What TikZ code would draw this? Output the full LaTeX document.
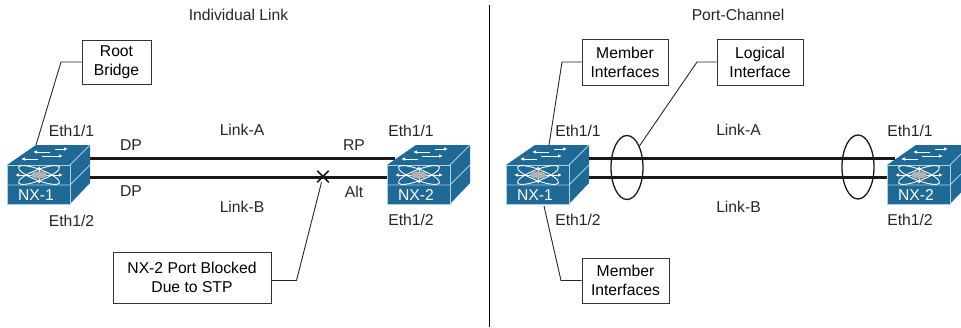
\documentclass[tikz,border=0pt]{standalone}
\usepackage{fontspec}
\setmainfont{Liberation Sans}
\usetikzlibrary{arrows.meta,shapes.geometric,shapes.misc}
\definecolor{switchblue}{RGB}{31,105,150}
\definecolor{switchedge}{RGB}{175,208,226}
\tikzset{
    callout/.style={draw=black!80, line width=0.9pt, align=center, inner sep=0pt, fill=white},
    leader/.style={line width=0.9pt, draw=black!85},
    linkline/.style={line width=3pt, draw=black!90},
    lagring/.style={draw=black!90, ellipse, line width=1.3pt, minimum width=32, minimum height=64, inner sep=0pt},
    blockmark/.style={draw=black!90, cross out, line width=1.5pt, minimum size=10, inner sep=0pt},
    portlabel/.style={inner sep=0pt, text=black!85},
    switchbox/.pic={
        \fill[switchblue] (0,0) -- (63,0) -- (83,-21) -- (83,-59) -- (29,-59) -- (0,-39) -- cycle;
        \draw[switchedge, line width=0.9pt] (0,0) rectangle (63,-39);
        \draw[switchedge, line width=0.9pt] (63,-39) -- (83,-59);
        \draw[switchedge, line width=0.9pt] (0,-19) -- (63,-19) -- (83,-39);
        \foreach \ax/\bx/\ay in {48/61/-55, 43/26/-52, 35/56/-48, 31/14/-45}
            \draw[white, line width=0.9pt, -{Latex[length=4pt,width=3.5pt]}] (\ax,\ay) -- (\bx,\ay);
        \foreach \ang in {-21,21}
            \draw[white, line width=0.9pt, rotate around={\ang:(32,-29)}] (32,-29) ellipse (22 and 5.5);
        \foreach \ang in {-24,24}
            \draw[white, line width=1pt, -{Latex[length=4pt,width=3.5pt]}] (32,-29) -- ++(\ang,0);
        \foreach \ang in {-9,9}
            \draw[white, line width=1pt, -{Latex[length=3.5pt,width=3.5pt]}] (32,-29) -- ++(0,\ang);
        \fill[black!30] (32,-29) ellipse (8 and 3.6);
        \node[white, inner sep=0pt] at (29,-9) {\tikzpictext};
        \coordinate (-eastA) at (83,-46);
        \coordinate (-eastB) at (83,-27);
        \coordinate (-westA) at (8,-46);
        \coordinate (-westB) at (0,-27);
        \coordinate (-topa) at (29,-59);
        \coordinate (-topb) at (43,-59);
        \coordinate (-bottom) at (38,2);
    }
}
\begin{document}
\begin{tikzpicture}[x=1pt, y=-1pt, line cap=butt, line join=miter, font=\fontsize{15.7}{19}\selectfont]
    \useasboundingbox (0,0) rectangle (961,327);
    \clip (0,0) rectangle (961,327);
    \coordinate (divtop) at (489,5);
    \coordinate (divbot) at (489,327);
    \draw[line width=1pt] (divtop) -- (divbot);
    \node[portlabel] (titleleft) at (238.5,15) {Individual Link};
    \node[portlabel] (titleright) at (738,15) {Port-Channel};
    % switches
    \pic[pic text=NX-1] (nxa) at (7,204) {switchbox};
    \pic[pic text=NX-2] (nxb) at (387,204) {switchbox};
    \pic[pic text=NX-1] (nxc) at (506,204) {switchbox};
    \pic[pic text=NX-2] (nxd) at (887,204) {switchbox};
    \draw[linkline] (nxa-eastA) -- (nxb-westA);
    \draw[linkline] (nxa-eastB) -- (nxb-westB);
    \draw[linkline] (nxc-eastA) -- (nxd-westA);
    \draw[linkline] (nxc-eastB) -- (nxd-westB);
    % text labels
    \foreach \point/\lx/\ly/\txt in {etha/71.5/131/{Eth1/1}, ethb/71.5/221/{Eth1/2}, dpa/131/145/DP, dpb/131/191/DP,
            linka/242/130/Link-A, linkb/242/207/Link-B, rp/354/145/RP, alt/354/192/Alt,
            ethc/411/131/{Eth1/1}, ethd/411/220/{Eth1/2}, ethe/578/131/{Eth1/1}, ethf/578/220/{Eth1/2},
            linkc/738.5/130/Link-A, linkd/738.5/207/Link-B, ethg/910/131/{Eth1/1}, ethh/910/220/{Eth1/2}}
        \node[portlabel] (\point) at (\lx,\ly) {\txt};
    % callouts
    \node[callout, minimum width=69, minimum height=44] (rootbox) at (116.5,62) {Root\\Bridge};
    \node[callout, minimum width=158, minimum height=51] (blockbox) at (192,277.5) {NX-2 Port Blocked\\Due to STP};
    \node[callout, minimum width=86, minimum height=46] (membera) at (625,62) {Member\\Interfaces};
    \node[callout, minimum width=86, minimum height=46] (logicbox) at (760,62) {Logical\\Interface};
    \node[callout, minimum width=87, minimum height=45] (memberb) at (625.5,280.5) {Member\\Interfaces};
    \node[blockmark] (blockx) at (323,176.5) {};
    \node[lagring] (ringa) at (627,167.5) {};
    \node[lagring] (ringb) at (858,167) {};
    \coordinate (rootbend) at (61,62);
    \coordinate (blockbend) at (296.5,280.5);
    \coordinate (memberabend) at (562,62);
    \coordinate (memberbbend) at (561,280.5);
    \coordinate (logicbend) at (697,62);
    \draw[leader] (rootbox.west) -- (rootbend) -- (nxa-topa);
    \draw[leader] (blockbox.east |- blockbend) -- (blockbend) -- (blockx);
    \draw[leader] (membera.west) -- (memberabend) -- (nxc-topb);
    \draw[leader] (memberb.west) -- (memberbbend) -- (nxc-bottom);
    \draw[leader] (logicbox.west) -- (logicbend) -- (ringa.60);
\end{tikzpicture}
\end{document}
